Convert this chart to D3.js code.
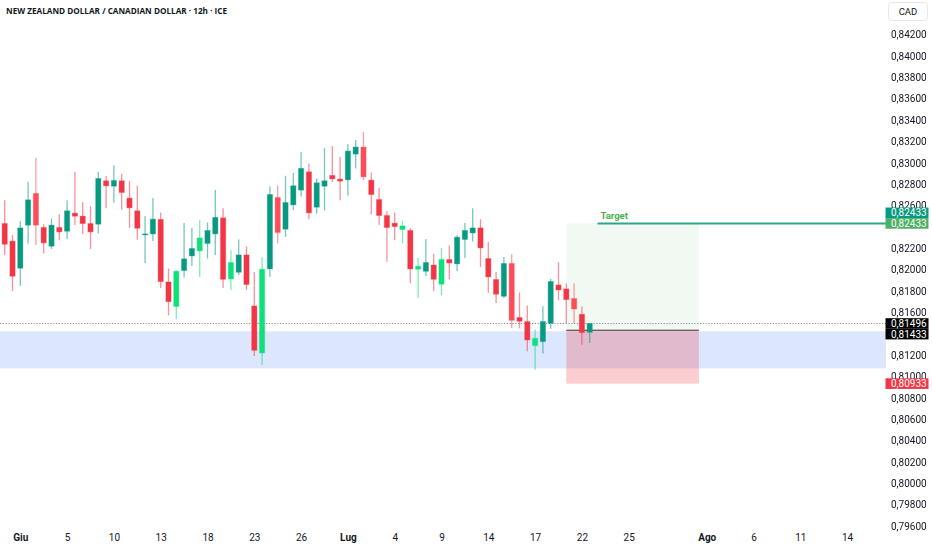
<!doctype html>
<html lang="it">
<head>
<meta charset="utf-8">
<title>NZD/CAD 12h</title>
<script src="https://d3js.org/d3.v7.min.js"></script>
<style>
  body { margin: 0; background: #fff; }
  svg { display: block; font-family: Roboto, "Noto Sans", sans-serif; }
</style>
</head>
<body>
<svg width="932" height="550"></svg>
<script>
// 12h candles, oldest first (index 0 = last bars of May)
var opens  = [.82432,.82267,.82014,.82417,.82714,.82395,.82220,.82395,.82360,.82529,
              .82501,.82432,.82426,.82832,.82782,.82832,.82670,.82551,.82326,.82335,
              .82470,.81885,.81655,.81992,.82129,.82176,.82245,.82335,.82485,.81913,
              .81976,.82138,.81660,.81220,.82007,.82676,.82379,.82607,.82745,.82916,
              .82585,.82782,.82882,.82848,.82841,.83082,.83148,.82838,.82657,.82507,
              .82435,.82376,.82367,.82004,.81985,.82044,.81864,.82095,.82054,.82283,
              .82344,.82391,.82104,.81908,.81751,.82058,.81552,.81514,.81289,.81327,
              .81498,.81857,.81820,.81730,.81582,.81414];
var highs  = [.82651,.82323,.82454,.82820,.83047,.82426,.82479,.82520,.82651,.82916,
              .82632,.82595,.82916,.82876,.82976,.82897,.82829,.82785,.82501,.82670,
              .82536,.82011,.81998,.82438,.82391,.82466,.82442,.82745,.82576,.82182,
              .82283,.82217,.81979,.82117,.82782,.82789,.82879,.82904,.83101,.82995,
              .82857,.83138,.83157,.83057,.83176,.83213,.83288,.82910,.82766,.82548,
              .82536,.82457,.82391,.82110,.82288,.82148,.82204,.82229,.82323,.82438,
              .82576,.82473,.82260,.81979,.82119,.82145,.81786,.81664,.81439,.81657,
              .81913,.82070,.81870,.81873,.81655,.81496];
var lows   = [.82138,.81801,.81848,.82245,.82232,.82151,.82194,.82276,.82288,.82419,
              .82335,.82194,.82339,.82576,.82626,.82564,.82391,.82279,.82063,.82269,
              .81829,.81573,.81536,.81926,.82035,.81932,.82104,.82138,.81829,.81807,
              .81951,.81810,.81192,.81107,.81932,.82245,.82307,.82557,.82682,.82473,
              .82526,.82554,.82822,.82651,.82695,.82948,.82838,.82517,.82419,.82073,
              .82276,.82245,.81873,.81735,.81941,.81798,.81758,.81910,.81988,.82110,
              .82264,.82026,.81782,.81688,.81735,.81454,.81451,.81236,.81064,.81214,
              .81448,.81714,.81501,.81495,.81298,.81313];
var closes = [.82238,.81939,.82391,.82654,.82417,.82251,.82417,.82354,.82551,.82501,
              .82432,.82354,.82854,.82785,.82835,.82723,.82579,.82388,.82335,.82473,
              .81889,.81701,.81985,.82101,.82198,.82297,.82367,.82489,.81910,.82067,
              .82138,.81861,.81245,.82004,.82704,.82348,.82629,.82785,.82948,.82532,
              .82813,.82832,.82850,.82829,.83110,.83148,.82869,.82704,.82507,.82395,
              .82404,.82410,.82007,.82032,.82067,.81910,.82095,.82063,.82304,.82367,
              .82391,.82204,.81932,.81770,.82058,.81526,.81517,.81342,.81357,.81514,
              .81889,.81810,.81720,.81632,.81411,.81496];

// bars flagged by the indicator (painted brighter)
var brightUp   = [22, 25, 29, 33, 51, 53, 56, 68];
var brightDown = [4, 35, 46, 65, 73];

// time axis: bar index -> label
var timeTickIdx    = [2, 8, 14, 20, 26, 32, 38, 44, 50, 56, 62, 68, 74, 80, 90, 96, 102, 108];
var timeTickLabels = ['Giu','5','10','13','18','23','26','Lug','4','9','14','17','22','25','Ago','6','11','14'];
var monthLabels    = ['Giu','Lug','Ago'];

// price axis
var priceMin = 0.796, priceMax = 0.842, priceStep = 0.002;

// demand zone
var zoneTop = 0.81423, zoneBottom = 0.81076;

// long position
var lastPrice = 0.81496;
var entry = 0.81433, target = 0.82433, stop = 0.80933;
var posStart = 72, posEnd = 89, targetLineStart = 76;

// tags on the price scale
var tagPrices = [target, target, lastPrice, entry, stop];

var svg = d3.select('svg');
var W = 932, H = 550, plotRight = 886;

var x = d3.scaleLinear().domain([0, 108]).range([4.7, 847.1]);
var y = d3.scaleLinear().domain([priceMin, priceMax]).range([526, 34.7]);
var fmt = function(p){ return d3.format('.5f')(p).replace('.', ','); };

svg.append('rect').attr('width', W).attr('height', H).attr('fill', '#fff');

// zone
svg.append('rect')
  .attr('x', 0).attr('width', plotRight)
  .attr('y', y(zoneTop)).attr('height', y(zoneBottom) - y(zoneTop))
  .attr('fill', '#dce6fd');

// position tool
svg.append('rect')
  .attr('x', x(posStart)).attr('width', x(posEnd) - x(posStart))
  .attr('y', y(target)).attr('height', y(entry) - y(target))
  .attr('fill', 'rgba(76,175,80,0.07)');
svg.append('rect')
  .attr('x', x(posStart)).attr('width', x(posEnd) - x(posStart))
  .attr('y', y(entry)).attr('height', y(stop) - y(entry))
  .attr('fill', 'rgba(242,54,69,0.25)');

// last price dotted line
svg.append('line')
  .attr('x1', 0).attr('x2', plotRight)
  .attr('y1', y(lastPrice)).attr('y2', y(lastPrice))
  .attr('stroke', '#8a8d96').attr('stroke-width', 1.2)
  .attr('stroke-dasharray', '1.2,1.6');

// entry line
svg.append('line')
  .attr('x1', x(posStart)).attr('x2', x(posEnd))
  .attr('y1', y(entry)).attr('y2', y(entry))
  .attr('stroke', '#333').attr('stroke-width', 1);

// target line
svg.append('line')
  .attr('x1', x(targetLineStart)).attr('x2', plotRight)
  .attr('y1', y(target)).attr('y2', y(target))
  .attr('stroke', '#2ea88a').attr('stroke-width', 2);
svg.append('text')
  .attr('x', x(targetLineStart) + 3).attr('y', y(target) - 4)
  .attr('font-size', 9.5).attr('font-weight', 'bold')
  .attr('fill', '#4caf50')
  .text('Target');

// candles
var candles = opens.map(function(o, i){
  return { i: i, o: o, h: highs[i], l: lows[i], c: closes[i] };
});
var color = function(d){
  if (d.c >= d.o) return brightUp.indexOf(d.i) >= 0 ? '#0fe07c' : '#089981';
  return brightDown.indexOf(d.i) >= 0 ? '#fa4e5a' : '#f23645';
};

var g = svg.append('g').selectAll('g').data(candles).enter().append('g');
g.append('line')
  .attr('x1', function(d){ return x(d.i); })
  .attr('x2', function(d){ return x(d.i); })
  .attr('y1', function(d){ return y(d.h); })
  .attr('y2', function(d){ return y(d.l); })
  .attr('stroke', color).attr('stroke-opacity', 0.55).attr('stroke-width', 1.3);
g.append('rect')
  .attr('x', function(d){ return x(d.i) - 2.6; })
  .attr('width', 5.2)
  .attr('y', function(d){ return y(Math.max(d.o, d.c)); })
  .attr('height', function(d){ return Math.max(1, Math.abs(y(d.o) - y(d.c))); })
  .attr('fill', color)
  .attr('stroke', color).attr('stroke-opacity', 0.35).attr('stroke-width', 1);

// price tags: the position-tool tags give way to the line tags
var tagColors = ['#089981', '#4caf63', '#000', '#000', '#f23645'];
var tagH = 10.6;
var tags = tagPrices.map(function(p, i){ return { p: p, y: y(p), c: tagColors[i] }; });
tags[0].y = tags[1].y - tagH;
tags[3].y = Math.max(tags[3].y, tags[2].y + tagH);

// axis labels are hidden where a tag sits on them
var mask = svg.append('defs').append('mask').attr('id', 'tagMask');
mask.append('rect').attr('width', W).attr('height', H).attr('fill', '#fff');
mask.selectAll('rect.t').data(tags).enter().append('rect')
  .attr('class', 't')
  .attr('x', 880).attr('width', 52)
  .attr('y', function(d){ return d.y - tagH / 2; })
  .attr('height', tagH)
  .attr('fill', '#000');

var covered = function(p){
  return tags.some(function(t){ return Math.abs(y(p) - t.y) < tagH / 2; });
};
var priceTicks = d3.range(priceMin, priceMax + priceStep / 2, priceStep)
  .filter(function(p){ return !covered(p); });

// price axis
var yAxis = d3.axisRight(y)
  .tickValues(priceTicks)
  .tickSize(0).tickPadding(0)
  .tickFormat(fmt);
svg.append('g')
  .attr('transform', 'translate(891,0)')
  .attr('mask', 'url(#tagMask)')
  .call(yAxis)
  .call(function(a){ a.select('.domain').remove(); })
  .selectAll('text')
    .attr('font-size', 10).attr('font-family', 'Roboto, sans-serif')
    .attr('fill', '#131722');

// time axis
var xAxis = d3.axisBottom(x)
  .tickValues(timeTickIdx)
  .tickSize(0).tickPadding(0)
  .tickFormat(function(d, i){ return timeTickLabels[i]; });
svg.append('g')
  .attr('transform', 'translate(0,534)')
  .call(xAxis)
  .call(function(a){ a.select('.domain').remove(); })
  .selectAll('text')
    .attr('font-size', 10).attr('font-family', 'Roboto, sans-serif')
    .attr('fill', '#131722')
    .attr('font-weight', function(d, i){ return monthLabels.indexOf(timeTickLabels[i]) >= 0 ? 'bold' : 'normal'; });

var tg = svg.append('g').selectAll('g').data(tags).enter().append('g');
tg.append('rect')
  .attr('x', 885.5).attr('width', 43)
  .attr('y', function(d){ return d.y - tagH / 2; })
  .attr('height', tagH)
  .attr('fill', function(d){ return d.c; });
tg.append('text')
  .attr('x', 891).attr('y', function(d){ return d.y; })
  .attr('dy', '0.35em')
  .attr('font-size', 10).attr('fill', '#fff')
  .text(function(d){ return fmt(d.p); });

// currency box
svg.append('rect')
  .attr('x', 888.5).attr('y', 2.5).attr('width', 39).attr('height', 18)
  .attr('rx', 3).attr('fill', '#fff').attr('stroke', '#e6e8ee');
svg.append('text')
  .attr('x', 908).attr('y', 12).attr('dy', '0.35em')
  .attr('text-anchor', 'middle').attr('font-size', 9.5).attr('fill', '#131722')
  .text('CAD');

// title
svg.append('text')
  .attr('x', 6).attr('y', 14)
  .attr('font-size', 9.5).attr('font-weight', 'bold')
  .attr('font-family', '"Open Sans", sans-serif')
  .attr('fill', '#131722')
  .attr('textLength', 221).attr('lengthAdjust', 'spacingAndGlyphs')
  .text('NEW ZEALAND DOLLAR / CANADIAN DOLLAR · 12h · ICE');
</script>
</body>
</html>
